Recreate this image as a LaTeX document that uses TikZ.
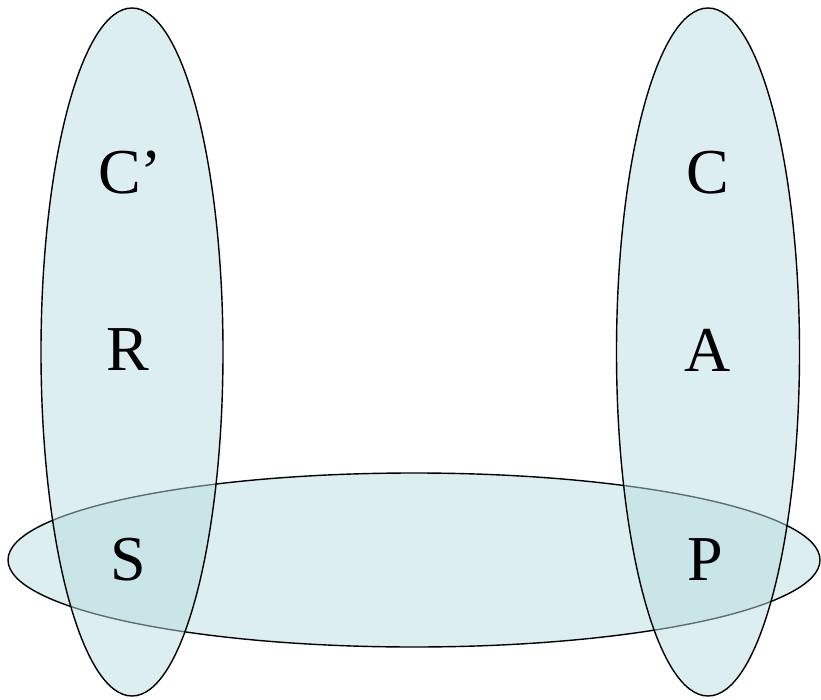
\documentclass[tikz,border=0pt]{standalone}
\usepackage{fontspec}
\setmainfont{Liberation Serif}
\definecolor{setfill}{RGB}{185,221,225}
\begin{document}
\begin{tikzpicture}[x=1pt,y=-1pt,
  setshape/.style={draw=black,line width=1.4pt,fill=setfill,fill opacity=0.5},
  lbl/.style={font=\fontsize{64}{64}\selectfont,text=black,inner sep=0pt}]
\useasboundingbox (0,0) rectangle (821,700);
\path[setshape] (414,560) ellipse [x radius=406, y radius=87];
\path[setshape] (132,352) ellipse [x radius=91, y radius=344];
\path[setshape] (708,352) ellipse [x radius=91.5, y radius=344];
\node[lbl] (cp) at (130,173) {C’};
\node[lbl] (r) at (128,350) {R};
\node[lbl] (s) at (128,560) {S};
\node[lbl] (c) at (708,173) {C};
\node[lbl] (a) at (708,350) {A};
\node[lbl] (p) at (705,560) {P};
\end{tikzpicture}
\end{document}
